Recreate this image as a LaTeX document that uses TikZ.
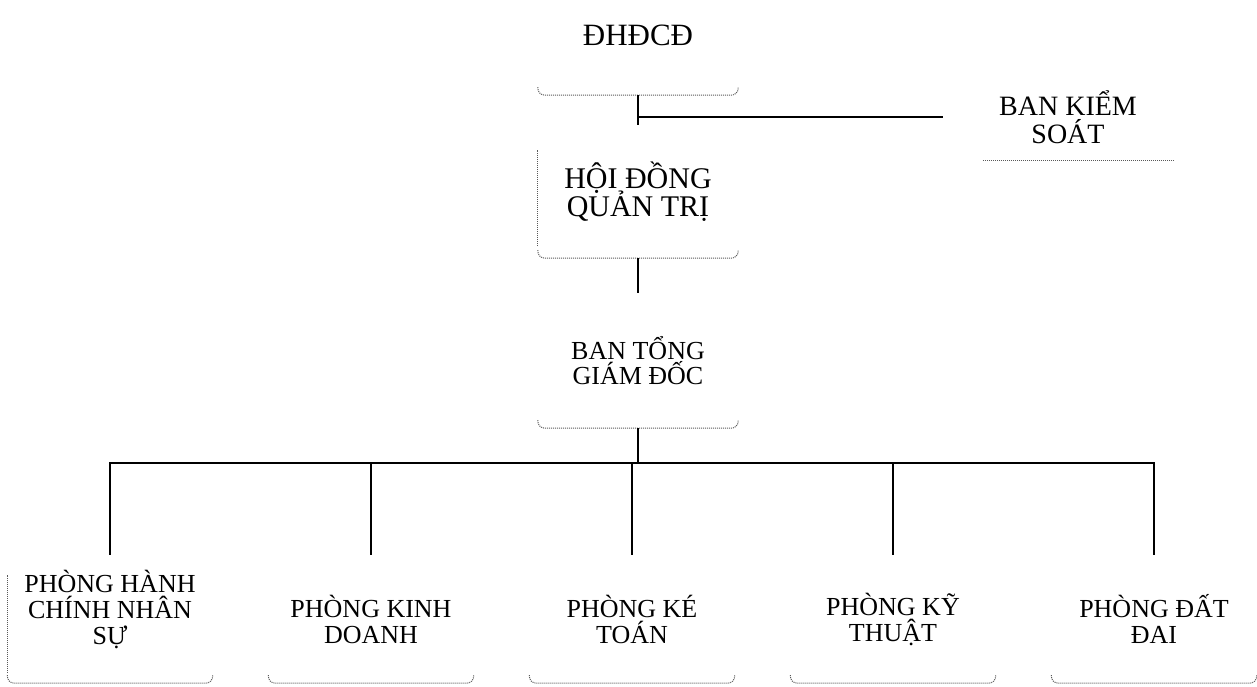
\documentclass[tikz,border=0pt]{standalone}
\usepackage{fontspec}
\setmainfont{Liberation Serif}
\usetikzlibrary{positioning}
\newcommand{\orgfont}[2]{\fontsize{#1}{#2}\selectfont\lineskiplimit=-100pt}
\begin{document}
\begin{tikzpicture}[x=1pt, y=-1pt, node distance=261pt,
    unit/.style={align=center, inner sep=0pt, minimum width=200pt},
    dept/.style={unit, minimum width=205pt, minimum height=128pt, font=\orgfont{26}{26}},
    rim/.style={draw=black!65, densely dotted, line width=1pt, rounded corners=7pt},
    link/.style={draw=black, line width=1.6pt}]
  \useasboundingbox (0,0) rectangle (1257,687);

  \node[unit, minimum height=120pt, font=\orgfont{31}{30}] (dh) at (638,35) {ĐHĐCĐ};
  \node[unit, minimum height=133pt, font=\orgfont{30}{28}] (hdqt) at (638,191.5) {HỘI ĐỒNG\\QUẢN TRỊ};
  \node[unit, minimum width=250pt, minimum height=86pt, font=\orgfont{28}{28}] (bks) at (1068,117) {BAN KIỂM\\SOÁT};
  \node[unit, minimum height=135pt, font=\orgfont{26}{25}] (btgd) at (638,360.5) {BAN TỔNG\\GIÁM ĐỐC};

  \node[dept] (hc) at (110,619) {PHÒNG HÀNH\\CHÍNH NHÂN\\SỰ\\[-2pt]};
  \node[dept, right of=hc] (kd) {PHÒNG KINH\\DOANH};
  \node[dept, right of=kd] (kt) {PHÒNG KÉ\\TOÁN};
  \node[dept, right of=kt] (kth) {PHÒNG KỸ\\THUẬT};
  \node[dept, right of=kth] (dd) {PHÒNG ĐẤT\\ĐAI};

  % faint box edges
  \foreach \n in {dh, hdqt, btgd, hc, kd, kt, kth, dd}
    \draw[rim] ([yshift=8pt]\n.south west) -- (\n.south west) -- (\n.south east) -- ([yshift=8pt]\n.south east);
  \draw[rim] ([xshift=40pt]bks.south west) -- ([xshift=-20pt]bks.south east);
  \draw[rim] ([yshift=12pt]hdqt.south west) -- ([yshift=-25pt]hdqt.north west);
  \draw[rim] ([yshift=10pt]hc.south west) -- ([yshift=-20pt]hc.north west);

  \path[link] (dh.south) -- (hdqt.north);
  \path[link] (bks.west) -- (bks.west -| dh.south);
  \path[link] (hdqt.south) -- (btgd.north);
  \foreach \n in {hc, kd, kt, kth, dd}
    \path[link] (btgd.south) -- ++(0,35) -| (\n.north);
\end{tikzpicture}
\end{document}
